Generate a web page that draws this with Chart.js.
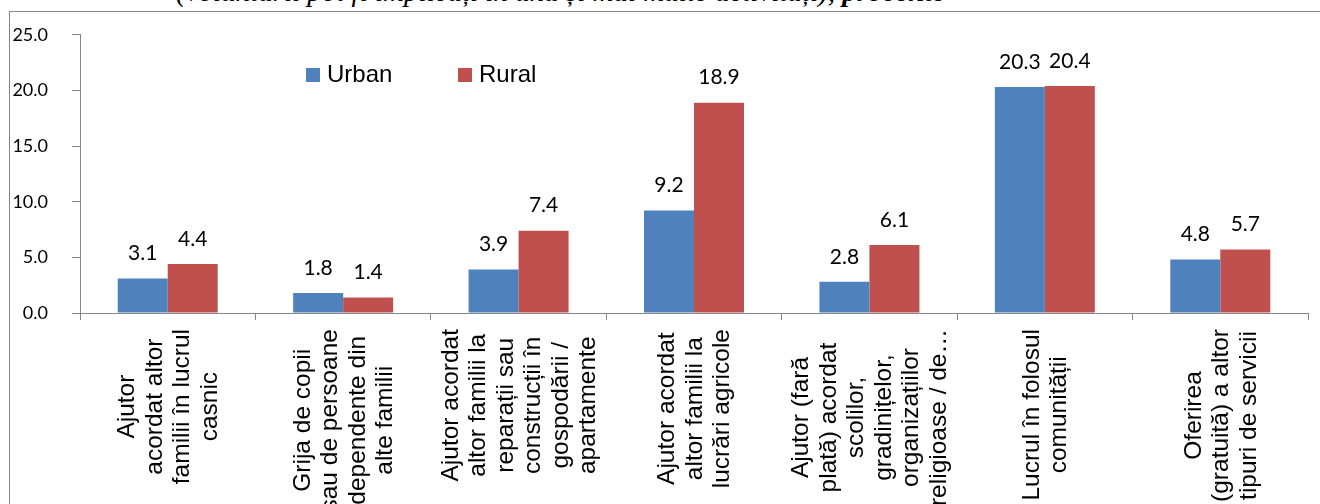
<!DOCTYPE html>
<html>
<head>
<meta charset="utf-8">
<script src="https://cdn.jsdelivr.net/npm/chart.js@4"></script>
<style>
  html, body { margin: 0; padding: 0; background: #fff; overflow: hidden; }
  #wrap { position: relative; width: 1320px; height: 504px; }
  #frame { position: absolute; left: 9px; top: 11px; width: 1400px; height: 600px;
           border-left: 1px solid #868686; border-top: 1px solid #868686; }
  #title { position: absolute; left: 176px; top: -25px; font-family: "Liberation Serif", serif;
           font-style: italic; font-size: 29px; line-height: 33px; white-space: nowrap; color: #000; }
  #title b { font-weight: bold; }
  canvas { position: absolute; left: 0; top: 0; }
</style>
</head>
<body>
<div id="wrap">
  <div id="frame"></div>
  <div id="title">(voluntarii pot fi implicați în una și mai multe activități), <b>procente</b></div>
  <canvas id="chart" width="1320" height="504"></canvas>
</div>
<script>
// --- data ---
const categories = [
    ['Ajutor', 'acordat altor', 'familii în lucrul', 'casnic'],
    ['Grija de copii', 'sau de persoane', 'dependente din', 'alte familii'],
    ['Ajutor acordat', 'altor familii la', 'reparații sau', 'construcții în', 'gospodării /', 'apartamente'],
    ['Ajutor acordat', 'altor familii la', 'lucrări agricole'],
    ['Ajutor (fară', 'plată) acordat', 'scolilor,', 'gradinițelor,', 'organizațiilor', 'religioase / de…'],
    ['Lucrul în folosul', 'comunității'],
    ['Oferirea', '(gratuită) a altor', 'tipuri de servicii']
];
const urbanValues = [3.1, 1.8, 3.9, 9.2, 2.8, 20.3, 4.8];
const ruralValues = [4.4, 1.4, 7.4, 18.9, 6.1, 20.4, 5.7];
const yTicks = [0, 5, 10, 15, 20, 25];

const axisGrey = '#868686';

// value labels above bars
const valueLabels = {
    id: 'valueLabels',
    afterDatasetsDraw(chart) {
        const ctx = chart.ctx;
        ctx.save();
        ctx.font = '21px Lato';
        ctx.fillStyle = '#000';
        ctx.textAlign = 'center';
        ctx.textBaseline = 'middle';
        chart.data.datasets.forEach((ds, i) => {
            chart.getDatasetMeta(i).data.forEach((bar, j) => {
                ctx.fillText(ds.data[j].toFixed(1), bar.x, bar.y - 25);
            });
        });
        ctx.restore();
    }
};

// rotated, centred category labels
const catLabels = {
    id: 'catLabels',
    afterDraw(chart) {
        const ctx = chart.ctx, xs = chart.scales.x;
        ctx.save();
        ctx.font = '24.5px "Liberation Sans"';
        ctx.fillStyle = '#000';
        ctx.textAlign = 'center';
        ctx.textBaseline = 'middle';
        const lh = 27.5;
        categories.forEach((lines, i) => {
            const x = xs.getPixelForValue(i);
            const maxW = Math.max(...lines.map(l => ctx.measureText(l).width));
            const cy = xs.top + 16 + maxW / 2;
            ctx.save();
            ctx.translate(x + 1, cy);
            ctx.rotate(-Math.PI / 2);
            lines.forEach((l, k) => ctx.fillText(l, 0, (k - (lines.length - 1) / 2) * lh));
            ctx.restore();
        });
        ctx.restore();
    }
};

// legend inside the plot
const insideLegend = {
    id: 'insideLegend',
    afterDraw(chart) {
        const ctx = chart.ctx;
        const spots = [306, 458];
        ctx.save();
        ctx.font = '24px "Liberation Sans"';
        ctx.textBaseline = 'alphabetic';
        chart.data.datasets.forEach((ds, i) => {
            ctx.fillStyle = ds.backgroundColor;
            ctx.fillRect(spots[i], 68, 14, 14);
            ctx.fillStyle = '#000';
            ctx.fillText(ds.label, spots[i] + 21, 82);
        });
        ctx.restore();
    }
};

new Chart(document.getElementById('chart'), {
    type: 'bar',
    data: {
        labels: categories,
        datasets: [
            { label: 'Urban', data: urbanValues, backgroundColor: '#4F81BD' },
            { label: 'Rural', data: ruralValues, backgroundColor: '#C0504D' }
        ]
    },
    options: {
        responsive: false,
        animation: false,
        layout: { padding: { left: 10, top: 33, right: 12, bottom: 0 } },
        datasets: { bar: { categoryPercentage: 0.57, barPercentage: 1.0 } },
        plugins: { legend: { display: false }, tooltip: { enabled: false } },
        scales: {
            x: {
                ticks: { display: false },
                grid: { offset: true, drawOnChartArea: false, drawTicks: true, tickLength: 7, color: axisGrey },
                border: { display: true, color: axisGrey, width: 1 },
                afterFit: (s) => { s.height = 191; }
            },
            y: {
                min: 0, max: 25,
                afterBuildTicks: (s) => { s.ticks = yTicks.map(v => ({ value: v })); },
                ticks: { color: '#000', font: { family: 'Lato', size: 18 }, padding: 24,
                         callback: (v) => Number(v).toFixed(1) },
                grid: { drawOnChartArea: false, drawTicks: true, tickLength: 8, color: axisGrey },
                border: { display: true, color: axisGrey, width: 1 },
                afterFit: (s) => { s.width = 70; }
            }
        }
    },
    plugins: [valueLabels, catLabels, insideLegend]
});
</script>
</body>
</html>
